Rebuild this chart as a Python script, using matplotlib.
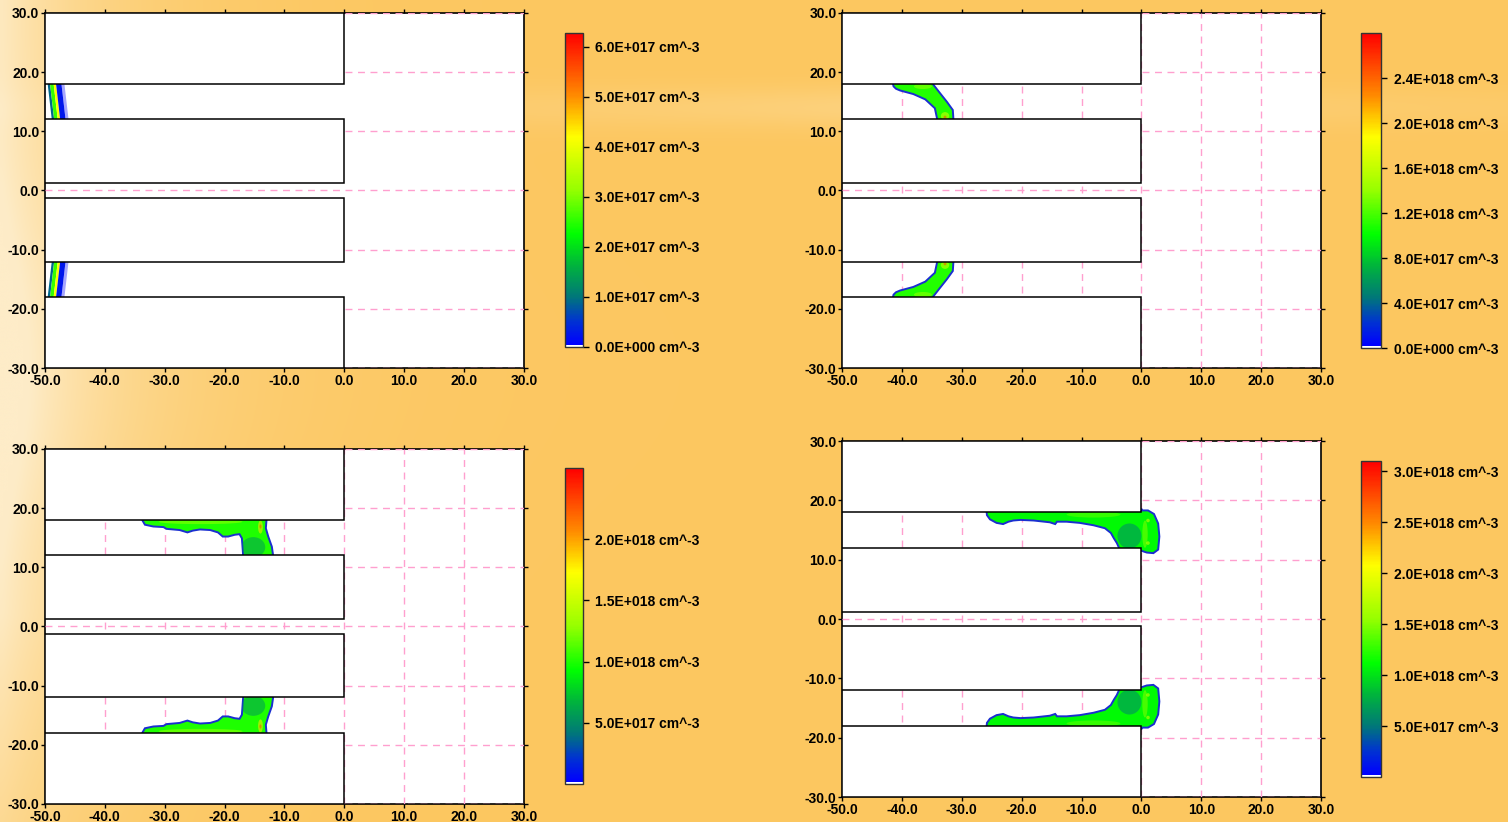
import matplotlib.pyplot as plt
import numpy as np
from matplotlib.cm import ScalarMappable
from matplotlib.colors import LinearSegmentedColormap, Normalize
from matplotlib.patches import Ellipse, Polygon, Rectangle

plt.rcParams["font.family"] = ["Liberation Sans", "DejaVu Sans"]
plt.rcParams["font.weight"] = "bold"

# --- axes / geometry ---
X_TICKS = [-50, -40, -30, -20, -10, 0, 10, 20, 30]
Y_TICKS = [-30, -20, -10, 0, 10, 20, 30]
ELECTRODE_X = (-50.0, 0.0)
ELECTRODE_Y = [(18.0, 30.0), (1.2, 12.0), (-12.0, -1.2), (-30.0, -18.0)]

# --- colour bars ---
CB_MAX = [6.28e17, 2.8e18, 2.58e18, 3.1e18]
CB_TICKS = [
    [0, 1e17, 2e17, 3e17, 4e17, 5e17, 6e17],
    [0, 4e17, 8e17, 1.2e18, 1.6e18, 2.0e18, 2.4e18],
    [5e17, 1.0e18, 1.5e18, 2.0e18],
    [5e17, 1.0e18, 1.5e18, 2.0e18, 2.5e18, 3.0e18],
]
CB_LABELS = [
    ["0.0E+000 cm^-3", "1.0E+017 cm^-3", "2.0E+017 cm^-3", "3.0E+017 cm^-3",
     "4.0E+017 cm^-3", "5.0E+017 cm^-3", "6.0E+017 cm^-3"],
    ["0.0E+000 cm^-3", "4.0E+017 cm^-3", "8.0E+017 cm^-3", "1.2E+018 cm^-3",
     "1.6E+018 cm^-3", "2.0E+018 cm^-3", "2.4E+018 cm^-3"],
    ["5.0E+017 cm^-3", "1.0E+018 cm^-3", "1.5E+018 cm^-3", "2.0E+018 cm^-3"],
    ["5.0E+017 cm^-3", "1.0E+018 cm^-3", "1.5E+018 cm^-3", "2.0E+018 cm^-3",
     "2.5E+018 cm^-3", "3.0E+018 cm^-3"],
]

# --- streamer shapes (upper channel, mirrored to the lower one) ---
# panel 1: thin front, stripes between boundary x at top/bottom of channel
P1_TOP_X = [-49.6, -49.2, -48.6, -48.2, -47.3, -46.8]
P1_BOT_X = [-48.8, -48.4, -47.8, -47.4, -46.5, -46.0]
P1_VALUES = [0.9e17, 2.6e17, 4.2e17, 0.25e17, 0.05e17]
P1_ALPHA = [1.0, 1.0, 1.0, 1.0, 0.35]

P2_X = [-41.6, -41.4, -41.0, -40.3, -38.1, -36.1, -34.5, -34.1, -34.1,
        -31.4, -31.4, -31.5, -32.5, -33.6, -34.8, -34.9]
P2_Y = [18.5, 17.6, 17.2, 16.9, 16.3, 15.4, 13.9, 12.0, 11.5,
        11.5, 12.0, 13.6, 15.0, 16.4, 17.95, 18.5]
P2_VALUE = 1.1e18
P2_SPOTS = [(-32.8, 12.6, 1.4, 1.3, 1.7e18), (-32.8, 12.4, 0.5, 0.5, 2.5e18),
            (-36.5, 17.6, 3.0, 0.9, 1.4e18)]

P3_X = [-33.9, -33.7, -33.3, -31.9, -30.2, -29.7, -27.5, -26.2, -25.3, -24.1,
        -22.4, -21.1, -20.3, -19.4, -18.3, -17.5, -17.1, -17.0, -16.9, -16.9,
        -11.9, -11.9, -12.1, -12.7, -13.1, -13.0, -13.0]
P3_Y = [18.5, 17.9, 17.2, 16.9, 16.8, 16.5, 16.3, 15.9, 16.2, 16.4,
        16.3, 15.9, 15.2, 15.2, 15.5, 15.6, 14.9, 13.5, 12.1, 11.5,
        11.5, 12.1, 13.5, 15.2, 16.6, 17.9, 18.5]
P3_VALUE = 1.0e18
P3_SPOTS = [(-15.2, 13.4, 4.0, 3.4, 0.55e18), (-24.0, 17.7, 14.0, 0.8, 1.3e18),
            (-14.0, 16.8, 0.8, 2.2, 1.8e18), (-14.0, 16.9, 0.35, 0.7, 2.3e18)]

P4_X = [-25.9, -25.8, -25.3, -24.2, -23.1, -22.2, -21.4, -20.2, -18.0, -15.3,
        -14.4, -14.1, -12.5, -10.3, -8.0, -6.1, -5.1, -4.6, -4.1, -3.7, -3.7,
        0.0, 0.9, 2.0, 2.8, 3.0, 2.8, 2.1, 1.1, 0.0, 0.0]
P4_Y = [18.5, 17.5, 16.8, 16.2, 16.0, 16.4, 16.6, 16.7, 16.6, 16.3,
        16.0, 16.4, 16.4, 16.2, 15.8, 15.3, 14.5, 13.6, 12.8, 11.9, 11.5,
        11.5, 11.2, 11.1, 11.7, 13.9, 16.1, 17.7, 18.3, 18.3, 18.5]
P4_VALUE = 1.1e18
P4_SPOTS = [(-2.0, 14.0, 4.0, 4.2, 0.55e18), (-8.0, 17.6, 9.0, 1.0, 1.4e18),
            (0.6, 14.3, 0.9, 4.6, 1.5e18), (1.1, 16.6, 0.6, 0.6, 1.9e18),
            (1.1, 12.8, 0.6, 0.6, 1.9e18)]

CMAP = LinearSegmentedColormap.from_list("plasma_jet", [
    (0.0, "#ffffff"), (0.005, "#ffffff"), (0.007, "#0000ff"),
    (0.08, "#0032d2"), (0.16, "#007878"), (0.26, "#00b43c"),
    (0.36, "#00ff00"), (0.5, "#96ff00"), (0.67, "#ffff00"),
    (0.8, "#ff8c00"), (1.0, "#ff0000"),
])
RIM = "#1a2fd0"
GRID = "#ff9fcf"


def background(fig):
    h, w = 160, 300
    xx, yy = np.meshgrid(np.linspace(0, 1, w), np.linspace(1, 0, h))
    orange = np.array([252, 199, 96]) / 255
    cream = np.array([254, 236, 200]) / 255
    wgt = 0.9 * np.exp(-xx / 0.07) * (1 - 0.45 * np.clip((0.25 - yy) / 0.25, 0, 1))
    wgt += 0.35 * np.exp(-((yy - 0.55) / 0.2) ** 2) * np.exp(-xx / 0.12)
    wgt += 0.30 * np.exp(-((yy - 0.87) / 0.025) ** 2) * np.exp(-np.abs(xx - 0.6) / 0.35)
    wgt = np.clip(wgt, 0, 1)[..., None]
    img = orange * (1 - wgt) + cream * wgt
    bg = fig.add_axes([0, 0, 1, 1], zorder=-1)
    bg.imshow(img, aspect="auto", extent=[0, 1, 0, 1], interpolation="bicubic")
    bg.axis("off")


def add_shape(ax, xs, ys, value, norm, spots):
    for sign in (1, -1):
        pts = np.column_stack([xs, sign * np.asarray(ys)])
        poly = Polygon(pts, closed=True, facecolor=CMAP(norm(value)),
                       edgecolor=RIM, lw=1.4, zorder=3)
        ax.add_patch(poly)
        for x, y, w, h, v in spots:
            e = Ellipse((x, sign * y), w, h, facecolor=CMAP(norm(v)),
                        edgecolor="none", alpha=0.55, zorder=3.1)
            ax.add_patch(e)
            e.set_clip_path(poly)


def setup_axes(ax, vertical_grid=True):
    ax.set_xlim(X_TICKS[0], X_TICKS[-1])
    ax.set_ylim(Y_TICKS[0], Y_TICKS[-1])
    ax.set_facecolor("white")
    ax.set_xticks(X_TICKS)
    ax.set_yticks(Y_TICKS)
    ax.set_xticklabels([f"{v:.1f}" for v in X_TICKS])
    ax.set_yticklabels([f"{v:.1f}" for v in Y_TICKS])
    ax.tick_params(direction="out", length=3, width=1, top=True, right=True,
                   labelsize=10, pad=1)
    for sp in ax.spines.values():
        sp.set_linewidth(1.2)
        sp.set_zorder(2)
    for y in Y_TICKS:
        ax.axhline(y, color=GRID, lw=1, dashes=(5, 4), zorder=2.6)
    if vertical_grid:
        for x in X_TICKS[1:-1]:
            ax.axvline(x, color=GRID, lw=1, dashes=(5, 4), zorder=2.6)
    for y0, y1 in ELECTRODE_Y:
        ax.add_patch(Rectangle((ELECTRODE_X[0], y0), ELECTRODE_X[1] - ELECTRODE_X[0],
                               y1 - y0, facecolor="white", edgecolor="black",
                               lw=1.1, zorder=4))


def add_colorbar(fig, rect, idx):
    cax = fig.add_axes(rect)
    norm = Normalize(0, CB_MAX[idx])
    cb = fig.colorbar(ScalarMappable(norm=norm, cmap=CMAP), cax=cax,
                      ticks=CB_TICKS[idx])
    cb.set_ticklabels(CB_LABELS[idx])
    cb.ax.tick_params(length=4, width=1, labelsize=10, pad=5)
    cb.outline.set_linewidth(1.0)
    cb.outline.set_edgecolor("#333333")
    return norm


fig = plt.figure(figsize=(15.08, 8.22), dpi=100)
background(fig)

ax_rects = [
    [0.0298, 0.5523, 0.3176, 0.4319],
    [0.5584, 0.5523, 0.3176, 0.4319],
    [0.0298, 0.0219, 0.3176, 0.4319],
    [0.5584, 0.0304, 0.3176, 0.4331],
]
cb_rects = [
    [0.3747, 0.5779, 0.0119, 0.3820],
    [0.9025, 0.5766, 0.0133, 0.3832],
    [0.3747, 0.0462, 0.0119, 0.3844],
    [0.9025, 0.0547, 0.0133, 0.3844],
]

axes = [fig.add_axes(r) for r in ax_rects]
norms = [add_colorbar(fig, r, i) for i, r in enumerate(cb_rects)]

for i, ax in enumerate(axes):
    setup_axes(ax, vertical_grid=(i != 0))

# panel 1: thin ionisation front in stripes
for sign in (1, -1):
    for k, v in enumerate(P1_VALUES):
        pts = [(P1_TOP_X[k], sign * 18.5), (P1_TOP_X[k + 1], sign * 18.5),
               (P1_BOT_X[k + 1], sign * 11.5), (P1_BOT_X[k], sign * 11.5)]
        axes[0].add_patch(Polygon(pts, closed=True, facecolor=CMAP(norms[0](v)),
                                  alpha=P1_ALPHA[k], edgecolor="none", zorder=3))

add_shape(axes[1], P2_X, P2_Y, P2_VALUE, norms[1], P2_SPOTS)
add_shape(axes[2], P3_X, P3_Y, P3_VALUE, norms[2], P3_SPOTS)
add_shape(axes[3], P4_X, P4_Y, P4_VALUE, norms[3], P4_SPOTS)

fig.savefig("out.png", dpi=100)
plt.close(fig)
